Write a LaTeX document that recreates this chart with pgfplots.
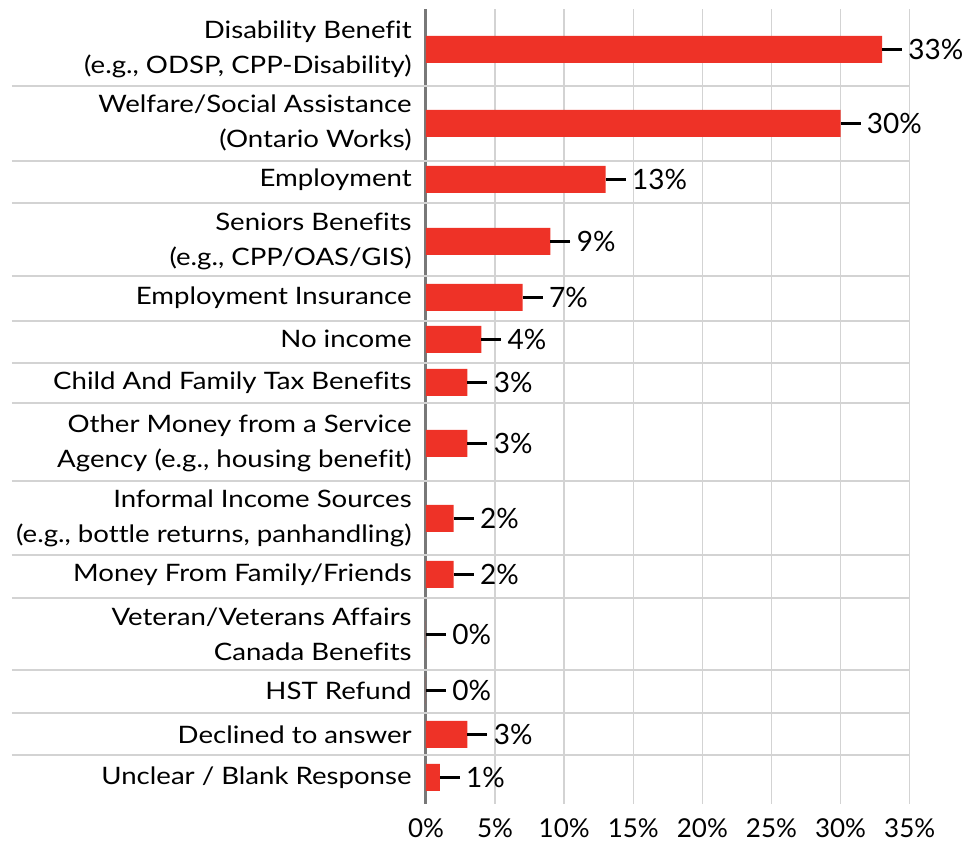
\documentclass[border=0pt]{standalone}
\usepackage{pgfplots}
\pgfplotsset{compat=1.18}
\usepackage{fontspec}
\setmainfont{Lato}
\newfontfamily\labelfont{Lato}[FakeStretch=1.15, Ligatures=NoCommon]
\definecolor{barred}{RGB}{238,50,39}
\definecolor{gridgray}{RGB}{211,211,211}
\definecolor{axisgray}{RGB}{120,120,120}
\begin{document}
\begin{tikzpicture}
\useasboundingbox (-213pt,-20pt) rectangle (275pt,402pt);
\begin{axis}[
  at={(0,0)}, anchor=south west,
  x=6.91pt, y=0.5pt,
  xmin=0, xmax=35, ymin=-804, ymax=-9.3,
  axis line style={draw=none},
  /pgf/number format/assume math mode=true,
  xtick={0,5,...,35},
  xticklabel={\pgfmathprintnumber{\tick}\%},
  xticklabel style={font=\fontsize{13}{15}\selectfont, inner sep=0pt, yshift=-7pt},
  xmajorgrids,
  major grid style={gridgray, line width=0.75pt},
  major tick length=0pt,
  extra x ticks={0},
  extra x tick labels={},
  extra x tick style={major grid style={axisgray, line width=1.5pt}},
  ytick={-49.4,-123.3,-179.5,-241.3,-297.3,-339.3,-382.3,-443.3,-518.3,-574.3,-634.5,-690.7,-734.3,-777.3},
  yticklabels={
    {Disability Benefit\\(e.g., ODSP, CPP-Disability)},
    {Welfare/Social Assistance\\(Ontario Works)},
    {Employment},
    {Seniors Benefits\\(e.g., CPP/OAS/GIS)},
    {Employment Insurance},
    {No income},
    {Child And Family Tax Benefits},
    {Other Money from a Service\\Agency (e.g., housing benefit)},
    {Informal Income Sources\\(e.g., bottle returns, panhandling)},
    {Money From Family/Friends},
    {Veteran/Veterans Affairs\\Canada Benefits},
    {HST Refund},
    {Declined to answer},
    {Unclear / Blank Response}},
  yticklabel style={align=right, font=\labelfont\fontsize{12}{17.4}\selectfont, inner sep=0pt, xshift=-7pt},
  ytick pos=left,
  extra y ticks={-86,-161,-203,-276,-321,-363,-403,-481,-555,-598,-670,-713,-755},
  extra y tick labels={},
  extra y tick style={ymajorgrids=true, tick align=outside, major tick length=207pt,
    major tick style={gridgray, line width=0.75pt}},
  xbar, bar width=13.5pt, bar shift=0pt,
  nodes near coords={\pgfmathprintnumber[fixed,precision=0]{\pgfplotspointmeta}\%},
  every node near coord/.append style={anchor=west, inner sep=0pt, xshift=13pt,
    font=\fontsize{14}{16}\selectfont, text=black},
]
\addplot[fill=barred, draw=none,
  error bars/.cd, x dir=plus, x fixed=1.447, error mark=none,
  error bar style={line width=1.5pt, black}]
  coordinates {
  (33,-49.4) (30,-123.3) (13,-179.5) (9,-241.3) (7,-297.3) (4,-339.3) (3,-382.3)
  (3,-443.3) (2,-518.3) (2,-574.3) (0,-634.5) (0,-690.7) (3,-734.3) (1,-777.3)
  };
\end{axis}
\end{tikzpicture}
\end{document}
